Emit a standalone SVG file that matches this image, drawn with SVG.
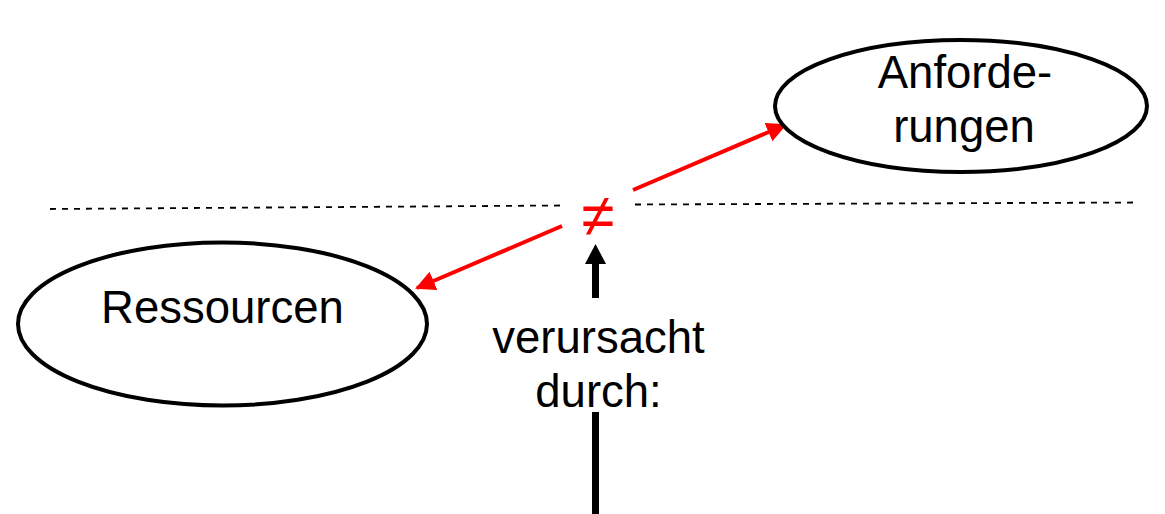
<svg xmlns="http://www.w3.org/2000/svg" width="1165" height="514" viewBox="0 0 1165 514">
<defs>
<style>
.node{fill:#fff;stroke:#000;stroke-width:4}
.lbl{font-family:"Liberation Sans",Arial,sans-serif;font-size:45.5px;fill:#000;text-anchor:middle}
.dash{stroke:#000;stroke-width:1.8;stroke-dasharray:6 6;fill:none}
.red{stroke:#f00;stroke-width:4;fill:none}
</style>
<marker id="rh" viewBox="0 0 10 10" refX="9" refY="5" markerWidth="5" markerHeight="5" markerUnits="strokeWidth" orient="auto">
<path d="M0,0 L10,5 L0,10 Z" fill="#f00"/>
</marker>
</defs>
<g id="connectors">
<path class="dash" d="M50,209 L561,205.5"/>
<path class="dash" d="M635,204.5 L1138,202.5"/>
<line class="red" x1="562" y1="226" x2="417" y2="288" marker-end="url(#rh)"/>
<line class="red" x1="633" y1="190" x2="785" y2="125" marker-end="url(#rh)"/>
<line x1="595.5" y1="298" x2="595.5" y2="262" stroke="#000" stroke-width="7"/>
<polygon points="585,264 606,264 595.5,244" fill="#000"/>
<line x1="595.5" y1="412" x2="595.5" y2="514" stroke="#000" stroke-width="7"/>
</g>
<g id="ressourcen">
<ellipse class="node" cx="222.5" cy="324" rx="204.5" ry="81.5"/>
<text class="lbl" x="222.5" y="323">Ressourcen</text>
</g>
<g id="anforderungen">
<ellipse class="node" cx="961" cy="106" rx="186" ry="66"/>
<text class="lbl" x="965" y="88">Anforde-</text>
<text class="lbl" x="964" y="142">rungen</text>
</g>
<g id="ungleich">
<text x="598" y="236" font-family="Liberation Sans,Arial,sans-serif" font-size="60" fill="#f00" text-anchor="middle">≠</text>
</g>
<g id="ursache">
<text class="lbl" x="598.5" y="353">verursacht</text>
<text class="lbl" x="598.5" y="407">durch:</text>
</g>
</svg>
